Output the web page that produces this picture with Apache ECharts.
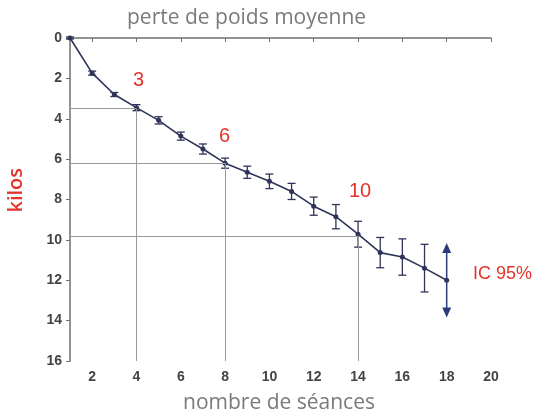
<!DOCTYPE html>
<html lang="fr">
<head>
<meta charset="utf-8">
<title>perte de poids moyenne</title>
<script src="https://cdn.jsdelivr.net/npm/echarts@6/dist/echarts.min.js"></script>
<style>
  html, body { margin: 0; padding: 0; background: #fff; }
  #chart { width: 539px; height: 416px; }
</style>
</head>
<body>
<div id="chart"></div>
<script>
// séances et perte moyenne (kilos)
var seances = [1, 2, 3, 4, 5, 6, 7, 8, 9, 10, 11, 12, 13, 14, 15, 16, 17, 18];
var perte   = [0, 1.74, 2.8, 3.45, 4.08, 4.86, 5.5, 6.2, 6.65, 7.1, 7.6, 8.33, 8.85, 9.72, 10.63, 10.85, 11.4, 12.0];
// demi-largeur de l'IC 95%
var ic95    = [0.05, 0.1, 0.1, 0.15, 0.18, 0.2, 0.25, 0.25, 0.3, 0.36, 0.4, 0.45, 0.6, 0.64, 0.75, 0.9, 1.18, 1.74];
var xTicks  = [2, 4, 6, 8, 10, 12, 14, 16, 18, 20];
// séances repérées (3, 6, 10 semaines)
var repereSeances = [4, 8, 14];
var repereValeurs = [3.5, 6.2, 9.8];
var repereLabels  = ['3', '6', '10'];

var navy = '#2f3458';
var red = '#e3342b';

var chart = echarts.init(document.getElementById('chart'));

var lineData = seances.map(function (s, i) { return [s, perte[i]]; });
var errData = seances.map(function (s, i) { return [s, perte[i] - ic95[i], perte[i] + ic95[i], i]; });

var refLines = [];
repereSeances.forEach(function (s, i) {
  var v = repereValeurs[i];
  refLines.push([{ coord: [1, v] }, { coord: [s, v] }]);
  refLines.push([{ coord: [s, v] }, { coord: [s, 16] }]);
});

function renderErr(params, api) {
  var x = api.value(0);
  var lo = api.coord([x, api.value(1)]);
  var hi = api.coord([x, api.value(2)]);
  var last = api.value(3) === seances.length - 1;
  if (last) {
    // dernier point : flèche IC 95%
    var c = '#2b3c78';
    return {
      type: 'group',
      children: [
        { type: 'line', shape: { x1: lo[0], y1: lo[1] + 6, x2: hi[0], y2: hi[1] - 6 }, style: { stroke: c, lineWidth: 1.5 } },
        { type: 'polygon', shape: { points: [[lo[0], lo[1] - 2], [lo[0] - 4.5, lo[1] + 8], [lo[0] + 4.5, lo[1] + 8]] }, style: { fill: c } },
        { type: 'polygon', shape: { points: [[hi[0], hi[1] + 2], [hi[0] - 4.5, hi[1] - 8], [hi[0] + 4.5, hi[1] - 8]] }, style: { fill: c } }
      ]
    };
  }
  var w = 4;
  var st = { stroke: navy, lineWidth: 1.3 };
  return {
    type: 'group',
    children: [
      { type: 'line', shape: { x1: lo[0], y1: lo[1], x2: hi[0], y2: hi[1] }, style: st },
      { type: 'line', shape: { x1: lo[0] - w, y1: lo[1], x2: lo[0] + w, y2: lo[1] }, style: st },
      { type: 'line', shape: { x1: hi[0] - w, y1: hi[1], x2: hi[0] + w, y2: hi[1] }, style: st }
    ]
  };
}

var labelGraphics = [
  { type: 'text', left: 127, top: 8, style: { text: 'perte de poids moyenne', font: '21px "Open Sans", sans-serif', fill: '#7a7a7a' } },
  { type: 'text', left: 183, top: 393, style: { text: 'nombre de séances', font: '21px "Open Sans", sans-serif', fill: '#7a7a7a' } },
  { type: 'text', left: 6, top: 168, style: { text: 'kilos', font: '600 20px "Open Sans", sans-serif', fill: red },
    rotation: Math.PI / 2, originX: 0, originY: 0 },
  { type: 'text', left: 473, top: 265, style: { text: 'IC 95%', font: '18px "Liberation Sans", Arial, sans-serif', fill: red } }
];
var repereLeft = [133, 219, 349];
var repereTop = [70, 126, 181];
repereLabels.forEach(function (t, i) {
  labelGraphics.push({ type: 'text', left: repereLeft[i], top: repereTop[i], style: { text: t, font: '20px "Liberation Sans", Arial, sans-serif', fill: red } });
});

var axisFont = { color: '#444', fontSize: 14, fontWeight: 'bold', fontFamily: '"Liberation Sans", Arial, sans-serif' };

chart.setOption({
  animation: false,
  backgroundColor: '#fff',
  grid: { left: 70, right: 48, top: 38, bottom: 55 },
  xAxis: {
    type: 'value', min: 1, max: 20,
    axisLine: { lineStyle: { color: '#6f6f6f', width: 1.5 } },
    axisTick: { customValues: xTicks, length: 4, lineStyle: { color: '#6f6f6f' } },
    axisLabel: Object.assign({ customValues: xTicks, margin: 9 }, axisFont),
    splitLine: { show: false }
  },
  yAxis: {
    type: 'value', inverse: true, min: 0, max: 16, interval: 2,
    axisLine: { show: true, lineStyle: { color: '#6f6f6f', width: 1.5 } },
    axisTick: { show: true, length: 4, lineStyle: { color: '#6f6f6f' } },
    axisLabel: Object.assign({ margin: 8 }, axisFont),
    splitLine: { show: false }
  },
  graphic: labelGraphics,
  series: [
    {
      type: 'line',
      data: lineData,
      symbol: 'circle',
      symbolSize: 5,
      lineStyle: { color: navy, width: 1.6 },
      itemStyle: { color: navy },
      z: 3,
      markLine: {
        silent: true,
        symbol: 'none',
        label: { show: false },
        lineStyle: { color: '#9a9a9a', width: 1, type: 'solid' },
        data: refLines
      }
    },
    {
      type: 'custom',
      data: errData,
      renderItem: renderErr,
      encode: { x: 0, y: [1, 2] },
      z: 4
    }
  ]
});
</script>
</body>
</html>
